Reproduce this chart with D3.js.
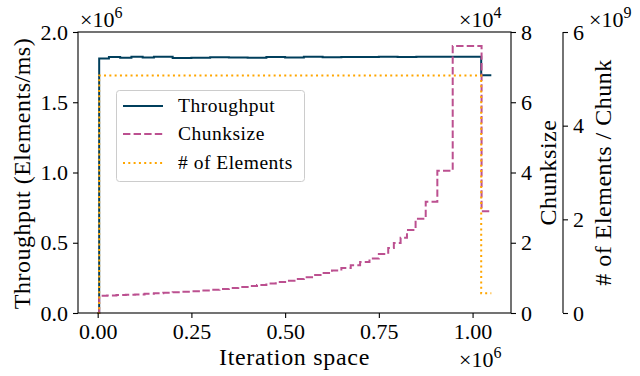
<!DOCTYPE html>
<html>
<head>
<meta charset="utf-8">
<script src="https://cdn.jsdelivr.net/npm/d3@7"></script>
<style>
  body { margin: 0; background: #fff; }
  text { font-family: "Liberation Serif", "Times New Roman", serif; fill: #000; }
</style>
</head>
<body>
<svg id="chart" width="640" height="376"></svg>
<script>
// Iteration positions (in units of 1e6) where each step begins
const throughputX = [0, 0.004, 0.03, 0.06, 0.09, 0.12, 0.15, 0.2, 0.25, 0.3, 0.35, 0.4, 0.45, 0.5, 0.55, 0.6, 0.65, 0.7, 0.75, 0.8, 0.85, 0.9, 0.95, 1.0, 1.023, 1.05];
// Throughput in units of 1e6 elements/ms
const throughputY = [0, 1.812, 1.822, 1.817, 1.824, 1.819, 1.823, 1.815, 1.817, 1.821, 1.818, 1.816, 1.822, 1.819, 1.823, 1.820, 1.822, 1.822, 1.823, 1.822, 1.823, 1.823, 1.823, 1.823, 1.692, 1.692];

const chunkX = [0, 0.004, 0.025, 0.05, 0.075, 0.1, 0.125, 0.15, 0.175, 0.2, 0.225, 0.25, 0.275, 0.3, 0.325, 0.35, 0.375, 0.4, 0.425, 0.45, 0.475, 0.5, 0.525, 0.55, 0.575, 0.6, 0.625, 0.65, 0.675, 0.7, 0.725, 0.75, 0.775, 0.79, 0.808, 0.825, 0.848, 0.875, 0.906, 0.947, 1.024, 1.05];
// Chunk size in units of 1e4
const chunkY = [0, 0.49, 0.50, 0.51, 0.52, 0.53, 0.545, 0.56, 0.575, 0.59, 0.605, 0.62, 0.64, 0.66, 0.685, 0.71, 0.74, 0.77, 0.80, 0.84, 0.88, 0.92, 0.97, 1.02, 1.08, 1.14, 1.21, 1.28, 1.36, 1.45, 1.55, 1.68, 1.85, 1.99, 2.14, 2.36, 2.68, 3.17, 4.05, 7.6, 2.9, 2.9];

const elementsX = [0, 0.004, 1.023, 1.05];
// Elements per chunk in units of 1e9
const elementsY = [0, 5.07, 0.42, 0.42];

const xTicks = [0, 0.25, 0.5, 0.75, 1.0];
const yTicksLeft = [0, 0.5, 1.0, 1.5, 2.0];
const yTicksChunk = [0, 2, 4, 6, 8];
const yTicksElem = [0, 2, 4, 6];

const seriesNames = ["Throughput", "Chunksize", "# of Elements"];
const colors = ["#003f5c", "#bc5090", "#ffa600"];

const svg = d3.select("#chart");
const L = 78, R = 511, T = 32, B = 313;
const spine2X = 563;

const x = d3.scaleLinear().domain([-0.0525, 1.1025]).range([L, R]);
const yL = d3.scaleLinear().domain([0, 2]).range([B, T]);
const yC = d3.scaleLinear().domain([0, 8]).range([B, T]);
const yE = d3.scaleLinear().domain([0, 6]).range([B, T]);

const fmtAxis = (g, size) => {
  g.selectAll("text").attr("font-size", size).attr("fill", "#000")
    .style("font-family", '"Liberation Serif", serif');
  g.selectAll("line").attr("stroke", "#000").attr("stroke-width", 1.1);
  g.select(".domain").remove();
};

// Series, drawn in axis order
const line = (xs, ys, yScale) => d3.line()
  .x((d, i) => x(xs[i]))
  .y(d => yScale(d))
  .curve(d3.curveStepAfter)(ys);

svg.append("path").attr("d", line(throughputX, throughputY, yL))
  .attr("fill", "none").attr("stroke", colors[0]).attr("stroke-width", 2);
svg.append("path").attr("d", line(chunkX, chunkY, yC))
  .attr("fill", "none").attr("stroke", colors[1]).attr("stroke-width", 2)
  .attr("stroke-dasharray", "7.4,3.2");
svg.append("path").attr("d", line(elementsX, elementsY, yE))
  .attr("fill", "none").attr("stroke", colors[2]).attr("stroke-width", 2)
  .attr("stroke-dasharray", "2,3.3");

// Axes
const gx = svg.append("g").attr("transform", `translate(0,${B})`)
  .call(d3.axisBottom(x).tickValues(xTicks).tickFormat(d3.format(".2f")).tickSizeOuter(0).tickSize(5).tickPadding(5));
fmtAxis(gx, 22);

const gyl = svg.append("g").attr("transform", `translate(${L},0)`)
  .call(d3.axisLeft(yL).tickValues(yTicksLeft).tickFormat(d3.format(".1f")).tickSizeOuter(0).tickSize(5).tickPadding(5));
fmtAxis(gyl, 22);

const gyc = svg.append("g").attr("transform", `translate(${R},0)`)
  .call(d3.axisRight(yC).tickValues(yTicksChunk).tickFormat(d3.format("d")).tickSizeOuter(0).tickSize(5).tickPadding(5));
fmtAxis(gyc, 22);

const gye = svg.append("g").attr("transform", `translate(${spine2X},0)`)
  .call(d3.axisRight(yE).tickValues(yTicksElem).tickFormat(d3.format("d")).tickSizeOuter(0).tickSize(5).tickPadding(5));
fmtAxis(gye, 22);
gye.append("line").attr("x1", 0).attr("x2", 0).attr("y1", T).attr("y2", B)
  .attr("stroke", "#000").attr("stroke-width", 1.1);

// Frame of the main axes
svg.append("rect").attr("x", L).attr("y", T).attr("width", R - L).attr("height", B - T)
  .attr("fill", "none").attr("stroke", "#000").attr("stroke-width", 1.1);

// Axis titles
svg.append("text").attr("x", (L + R) / 2).attr("y", 365).attr("text-anchor", "middle")
  .attr("font-size", 24).attr("letter-spacing", 0.7).text("Iteration space");
svg.append("text").attr("transform", `translate(30,${(T + B) / 2 + 1}) rotate(-90)`)
  .attr("text-anchor", "middle").attr("font-size", 24).attr("letter-spacing", 0.5).text("Throughput (Elements/ms)");
svg.append("text").attr("transform", `translate(556,${(T + B) / 2}) rotate(-90)`)
  .attr("text-anchor", "middle").attr("font-size", 24).attr("letter-spacing", 0.5).text("Chunksize");
svg.append("text").attr("transform", `translate(611,${(T + B) / 2}) rotate(-90)`)
  .attr("text-anchor", "middle").attr("font-size", 24).attr("letter-spacing", 0.5).text("# of Elements / Chunk");

// Scale multipliers
const offsetText = (px, py, exp) => {
  const t = svg.append("text").attr("x", px).attr("y", py).attr("font-size", 22);
  t.append("tspan").text("×10");
  t.append("tspan").attr("dy", -9).attr("font-size", 16).text(exp);
};
offsetText(80, 27, "6");
offsetText(459, 27, "4");
offsetText(589, 27, "9");
offsetText(459, 367, "6");

// Legend
const lg = svg.append("g");
lg.append("rect").attr("x", 116.5).attr("y", 90.5).attr("width", 188).attr("height", 91)
  .attr("rx", 3).attr("fill", "#fff").attr("fill-opacity", 0.8)
  .attr("stroke", "#cccccc").attr("stroke-width", 1);
const dashes = [null, "7.4,3.2", "2,3.3"];
const rowsY = [106, 134, 163];
seriesNames.forEach((name, i) => {
  lg.append("line").attr("x1", 123).attr("x2", 163).attr("y1", rowsY[i]).attr("y2", rowsY[i])
    .attr("stroke", colors[i]).attr("stroke-width", 2).attr("stroke-dasharray", dashes[i]);
  lg.append("text").attr("x", 178).attr("y", rowsY[i] + 6).attr("font-size", 19.5)
    .attr("letter-spacing", 0.5).text(name);
});
</script>
</body>
</html>
